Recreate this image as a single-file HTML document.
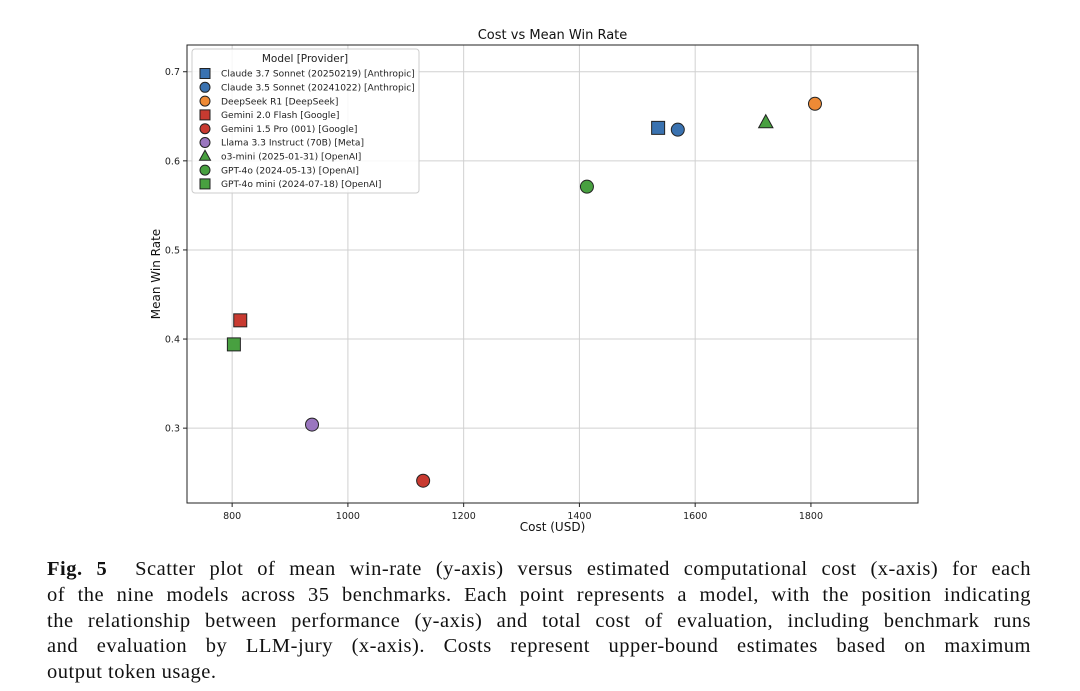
<!DOCTYPE html>
<html><head><meta charset="utf-8"><style>
body{margin:0;background:#fff;width:1080px;height:691px;overflow:hidden;position:relative}
#cap{position:absolute;left:47px;top:557px;width:984px;font-family:"Liberation Serif",serif;font-size:20.5px;line-height:25.8px;letter-spacing:0.5px;color:#111}
#cap div{text-align:justify;text-align-last:justify;white-space:nowrap}
#cap div.last{text-align-last:left}
</style></head><body>
<svg id="chart" width="1080" height="550" style="position:absolute;left:0;top:0" font-family="DejaVu Sans, Liberation Sans, sans-serif"></svg>
<div id="cap">
<div><b>Fig. 5</b>&nbsp; Scatter plot of mean win-rate (y-axis) versus estimated computational cost (x-axis) for each</div>
<div>of the nine models across 35 benchmarks. Each point represents a model, with the position indicating</div>
<div>the relationship between performance (y-axis) and total cost of evaluation, including benchmark runs</div>
<div>and evaluation by LLM-jury (x-axis). Costs represent upper-bound estimates based on maximum</div>
<div class="last">output token usage.</div>
</div>
<script>
const models=["Claude 3.7 Sonnet (20250219) [Anthropic]","Claude 3.5 Sonnet (20241022) [Anthropic]","DeepSeek R1 [DeepSeek]","Gemini 2.0 Flash [Google]","Gemini 1.5 Pro (001) [Google]","Llama 3.3 Instruct (70B) [Meta]","o3-mini (2025-01-31) [OpenAI]","GPT-4o (2024-05-13) [OpenAI]","GPT-4o mini (2024-07-18) [OpenAI]"];
const costs=[1536,1570,1807,814,1130,938,1722,1413,803];
const winRates=[0.637,0.635,0.664,0.421,0.241,0.304,0.643,0.571,0.394];
const shapes=["s","o","o","s","o","o","^","o","s"];
const colors=["#3a72b0","#3a72b0","#ee8a35","#c83a30","#c83a30","#9a76bf","#48a040","#48a040","#48a040"];
const xTicks=[800,1000,1200,1400,1600,1800];
const yTicks=[0.3,0.4,0.5,0.6,0.7];
const L=187,R=918,T=45,B=503,xmin=722,xmax=1985,ymin=0.216,ymax=0.730;
const sx=v=>L+(v-xmin)/(xmax-xmin)*(R-L);
const sy=v=>B-(v-ymin)/(ymax-ymin)*(B-T);
const svg=document.getElementById('chart');const NS="http://www.w3.org/2000/svg";
function mk(t,a,txt){const e=document.createElementNS(NS,t);for(const k in a)e.setAttribute(k,a[k]);if(txt!=null)e.textContent=txt;svg.appendChild(e);return e;}
function marker(s,x,y,r,c){let e;if(s==="s")e=mk('rect',{x:x-r,y:y-r,width:2*r,height:2*r});else if(s==="^")e=mk('polygon',{points:`${x},${y-r*1.2} ${x+r*1.1},${y+r*0.8} ${x-r*1.1},${y+r*0.8}`});else e=mk('circle',{cx:x,cy:y,r:r});e.setAttribute('fill',c);e.setAttribute('stroke','#222');e.setAttribute('stroke-width','1');return e;}
let e=mk('text',{x:(L+R)/2,y:39,'text-anchor':'middle','font-size':13,fill:'#111'},'Cost vs Mean Win Rate');

xTicks.forEach(v=>{const x=sx(v);let g=mk('line',{x1:x,x2:x,y1:T,y2:B,stroke:'#d0d0d0','stroke-width':1});
mk('line',{x1:x,x2:x,y1:B,y2:B+4,stroke:'#222'});let t=mk('text',{x:x,y:B+16,'text-anchor':'middle','font-size':9.5,fill:'#222'},v);});
yTicks.forEach(v=>{const y=sy(v);let g=mk('line',{x1:L,x2:R,y1:y,y2:y,stroke:'#d0d0d0','stroke-width':1});
mk('line',{x1:L-4,x2:L,y1:y,y2:y,stroke:'#222'});let t=mk('text',{x:L-7,y:y+3.5,'text-anchor':'end','font-size':9.5,fill:'#222'},v.toFixed(1));});
e=mk('rect',{x:L,y:T,width:R-L,height:B-T,fill:'none',stroke:'#222','stroke-width':1});

e=mk('text',{x:(L+R)/2,y:531,'text-anchor':'middle','font-size':12,fill:'#111'},'Cost (USD)');

e=mk('text',{x:160,y:274,'text-anchor':'middle','font-size':12,fill:'#111',transform:'rotate(-90 160 274)'},'Mean Win Rate');

models.forEach((m,i)=>{const p=marker(shapes[i],sx(costs[i]),sy(winRates[i]),6.5,colors[i]);});
e=mk('rect',{x:192,y:49,width:227,height:144,rx:3,fill:'#fff','fill-opacity':0.85,stroke:'#ccc'});

e=mk('text',{x:305,y:62,'text-anchor':'middle','font-size':10.5,fill:'#222'},'Model [Provider]');

models.forEach((m,i)=>{const y=73.5+i*13.8;marker(shapes[i],205,y,5,colors[i]);const t=mk('text',{x:221,y:y+3.2,'font-size':9.1,fill:'#222'},m);});
</script>
</body></html>
